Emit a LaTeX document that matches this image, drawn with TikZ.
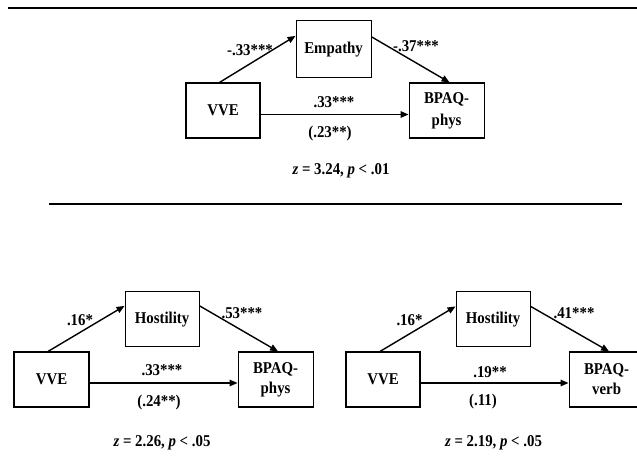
\documentclass[tikz,border=0pt]{standalone}
\usepackage{fontspec}
\setmainfont[FakeStretch=0.9]{Liberation Serif}
\usetikzlibrary{positioning,arrows.meta}
\tikzset{
  box/.style={draw,line width=1.1pt,minimum width=74pt,minimum height=55pt,align=center,font=\fontsize{16.5}{20}\selectfont\bfseries,inner sep=2pt},
  arr/.style={-{Triangle[length=8pt,width=6.5pt]},line width=1.4pt},
  lab/.style={font=\fontsize{16.5}{18}\selectfont\bfseries,inner sep=0pt},
  hrule/.style={line width=2.4pt},
}

\begin{document}
\begin{tikzpicture}[x=1pt,y=-1pt,node distance=4pt and 35pt]
\useasboundingbox (0,0) rectangle (637,457);
% top panel: empathy
\draw[hrule,line width=2.7pt] (8,8) -- (637,8);
\node[box] (vve1) at (223,110.5) {VVE};
\node[box,minimum width=75pt,minimum height=57pt,above right=of vve1] (emp) {Empathy};
\node[box,minimum width=75pt,right=148pt of vve1,font=\fontsize{16.5}{22}\selectfont\bfseries] (phys1) {BPAQ-\\phys};
\draw[arr] ([xshift=-3.5pt]vve1.north) -- ([yshift=13.5pt]emp.west);
\draw[arr] ([yshift=12.5pt]emp.east) -- ([xshift=3pt]phys1.north);
\draw[arr] ([yshift=-4pt]vve1.east) -- ([yshift=-4pt]phys1.west);
\node[lab] (a1) at (250,50) {-.33***};
\node[lab] (b1) at (416,46) {-.37***};
\node[lab] (c1) at (334,102) {.33***};
\node[lab] (d1) at (330,134) {(.23**)};
\node[lab] (z1) at (341,171) {\textit{z} = 3.24, \textit{p} < .01};
\draw[hrule] (49,204) -- (622,204);

% bottom left: hostility, physical
\node[box,minimum width=75pt] (vve2) at (51.5,379.5) {VVE};
\node[box,above right=of vve2] (hos2) {Hostility};
\node[box,minimum width=75pt,right=148pt of vve2] (phys2) {BPAQ-\\phys};
\draw[arr] ([xshift=-3.5pt]vve2.north) -- ([yshift=13.5pt]hos2.west);
\draw[arr] ([yshift=13.5pt]hos2.east) -- ([xshift=2.5pt]phys2.north);
\draw[arr] ([yshift=-3.5pt]vve2.east) -- ([yshift=-3.5pt]phys2.west);
\node[lab] (a2) at (80,320) {.16*};
\node[lab] (b2) at (242,313) {.53***};
\node[lab] (c2) at (162,370) {.33***};
\node[lab] (d2) at (159,403) {(.24**)};
\node[lab] (z2) at (162,443) {\textit{z} = 2.26, \textit{p} < .05};

% bottom right: hostility, verbal
\node[box] (vve3) at (383,379.5) {VVE};
\node[box,above right=of vve3] (hos3) {Hostility};
\node[box,minimum width=75pt,right=148pt of vve3] (verb3) {BPAQ-\\verb};
\draw[arr] ([xshift=-3pt]vve3.north) -- ([yshift=13pt]hos3.west);
\draw[arr] ([yshift=13pt]hos3.east) -- ([xshift=2.5pt]verb3.north);
\draw[arr] ([yshift=-3.5pt]vve3.east) -- ([yshift=-3.5pt]verb3.west);
\node[lab] (a3) at (409.5,320) {.16*};
\node[lab] (b3) at (574,313) {.41***};
\node[lab] (c3) at (490,372) {.19**};
\node[lab] (d3) at (483,402) {(.11)};
\node[lab] (z3) at (493.5,443) {\textit{z} = 2.19, \textit{p} < .05};
\end{tikzpicture}
\end{document}
